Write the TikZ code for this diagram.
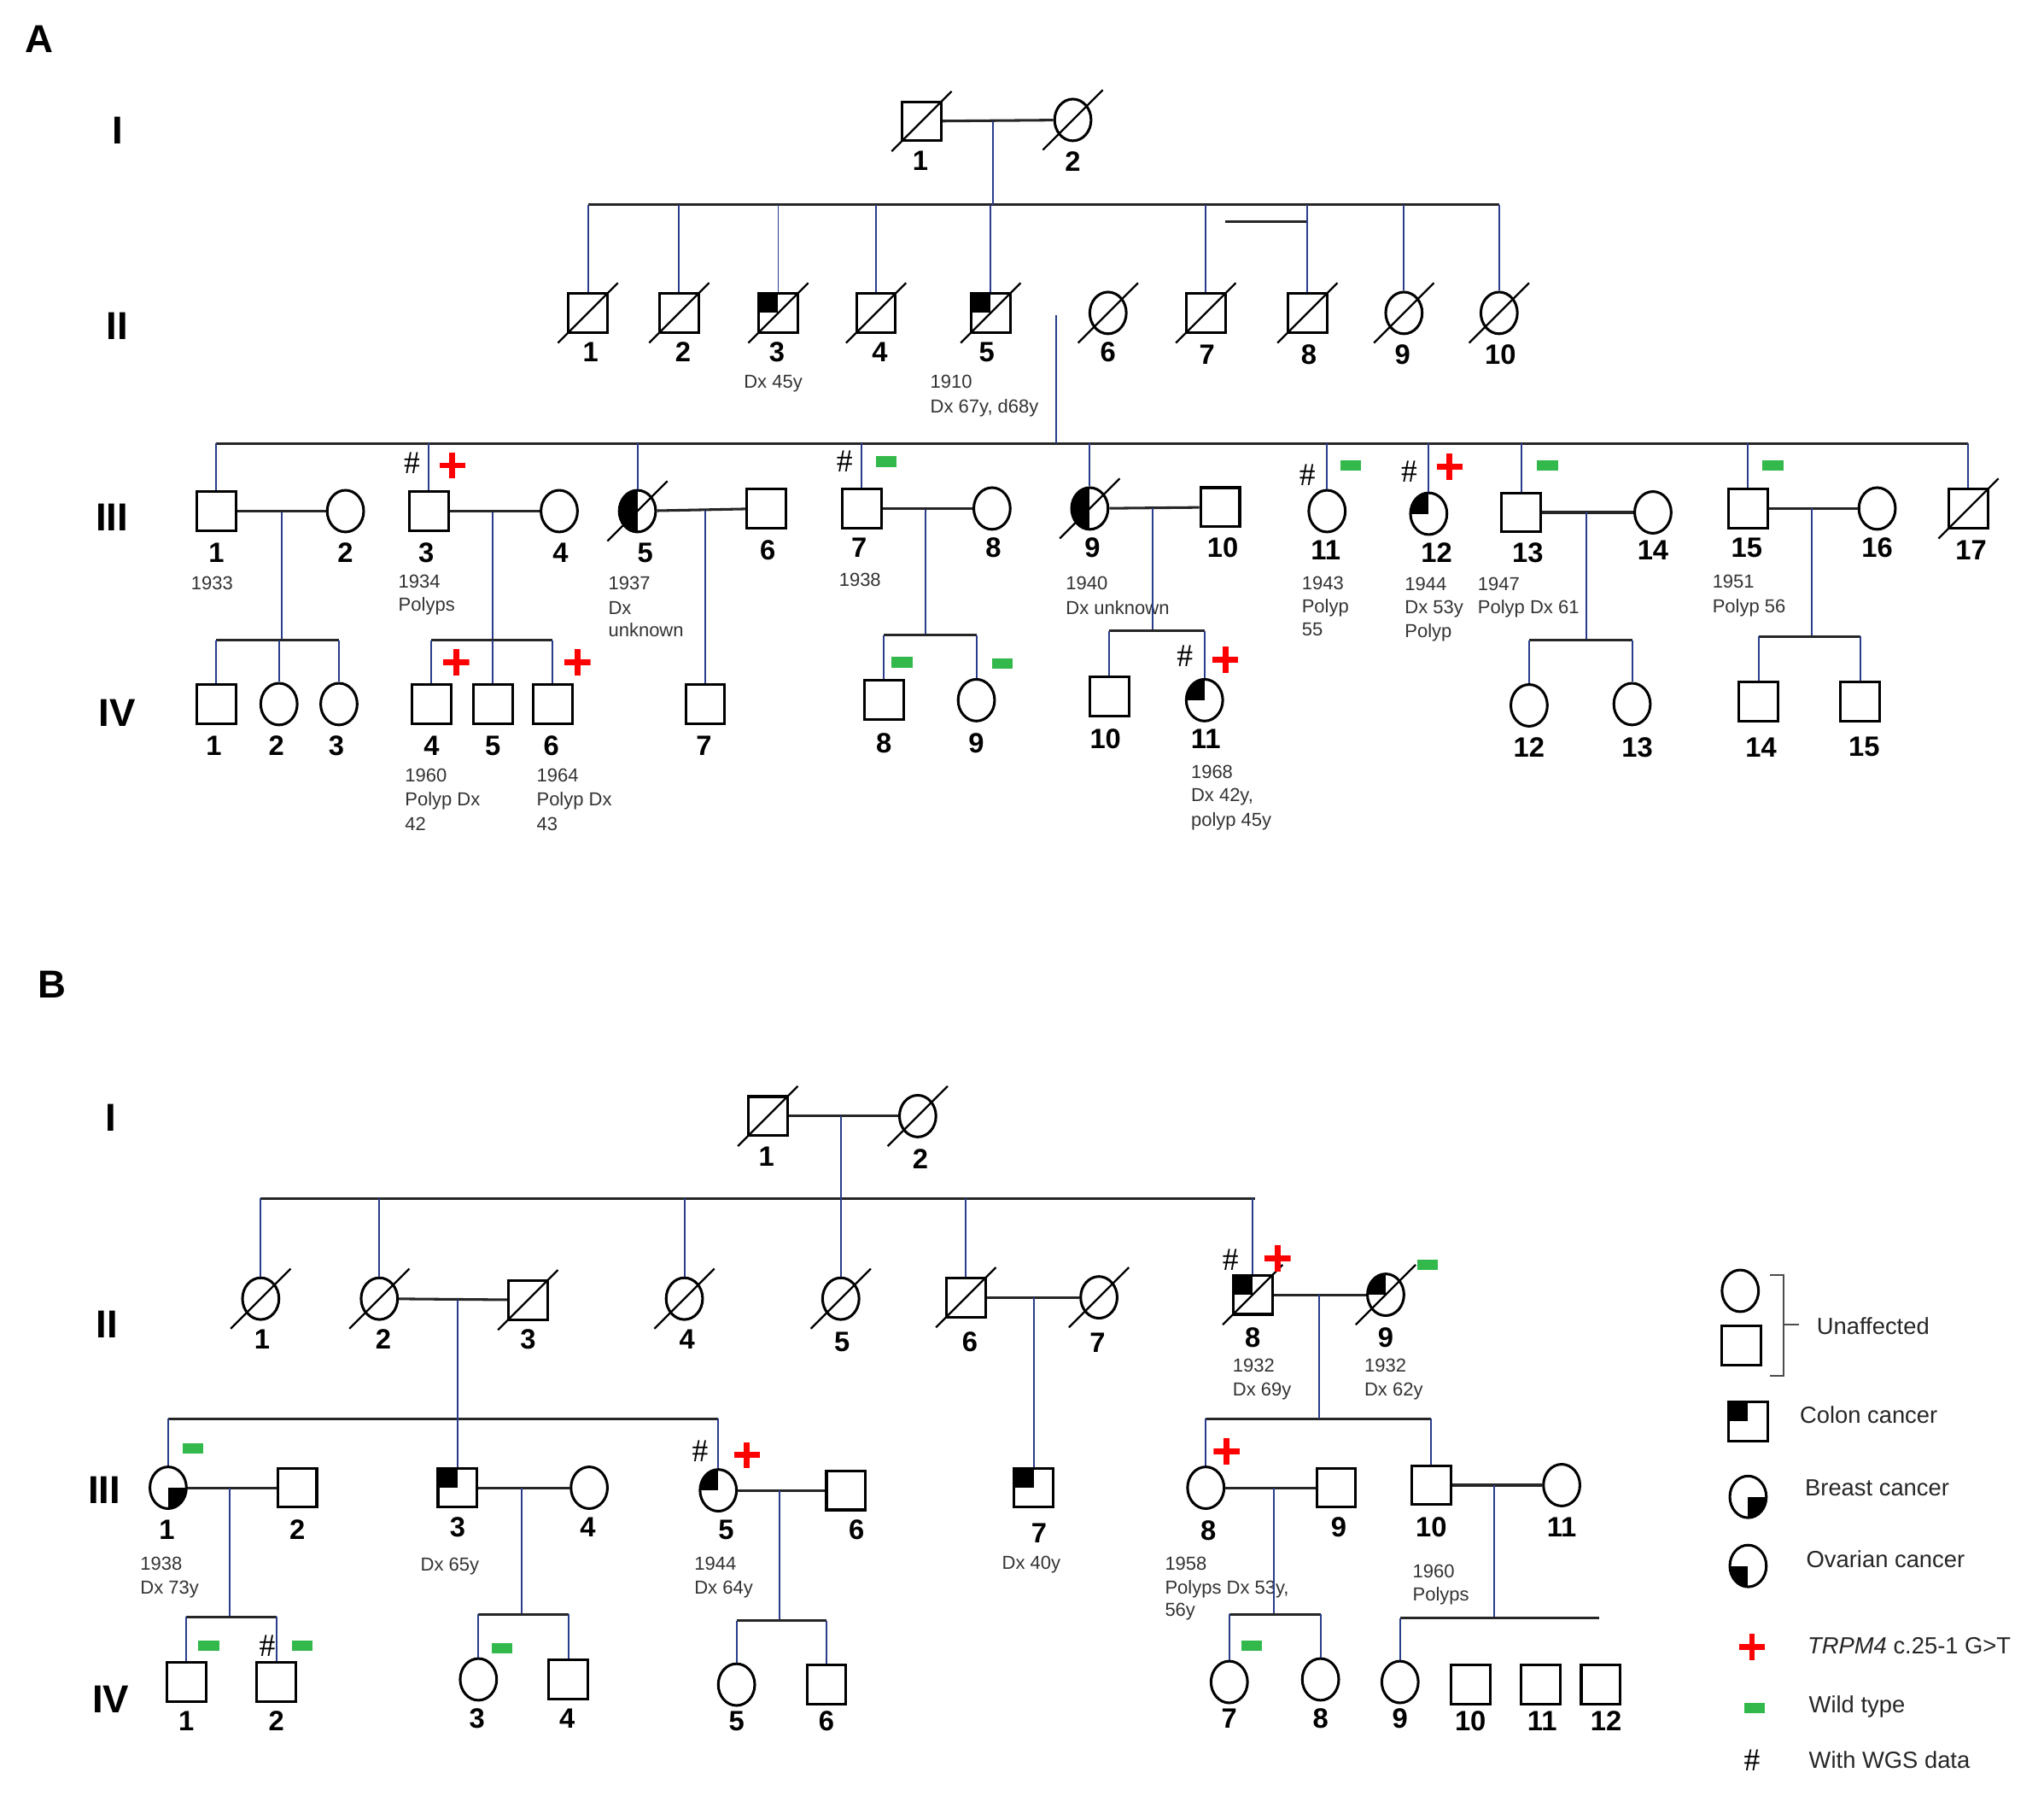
\documentclass[tikz,border=0pt]{standalone}
\usepackage{fontspec}
\setmainfont{Liberation Sans}
\newfontfamily\serifh{Liberation Serif}
\usetikzlibrary{calc,shapes.geometric}
\definecolor{pblue}{rgb}{0.16,0.24,0.55}
\definecolor{wgreen}{rgb}{0.2,0.72,0.3}
\tikzset{
 sq/.style={draw,rectangle,minimum size=3mm,inner sep=0,line width=0.2mm,fill=white},
 ci/.style={draw,ellipse,minimum width=2.8mm,minimum height=3.2mm,inner sep=0,line width=0.2mm,fill=white},
 colon/.style={path picture={\fill[black] (path picture bounding box.north west) rectangle (path picture bounding box.center);}},
 breast/.style={path picture={\fill[black] (path picture bounding box.south east) rectangle (path picture bounding box.center);}},
 ovar/.style={path picture={\fill[black] (path picture bounding box.south west) rectangle (path picture bounding box.center);}},
 lefth/.style={path picture={\fill[black] (path picture bounding box.north west) rectangle (path picture bounding box.south);}},
 ml/.style={line width=0.2mm,black!85},
 dl/.style={line width=0.13mm,pblue},
 num/.style={font=\fontsize{6.1}{7}\selectfont\bfseries,inner sep=0},
 gen/.style={font=\fontsize{8.5}{9}\selectfont\bfseries,inner sep=0},
 sm/.style={font=\fontsize{4.1}{5}\selectfont,inner sep=0,anchor=west,text=black!80},
 leg/.style={font=\fontsize{5.1}{6}\selectfont,inner sep=0,anchor=west,text=black!85},
 plus/.style={minimum size=2mm,inner sep=0,path picture={\draw[red,line width=0.45mm] (path picture bounding box.north)--(path picture bounding box.south) (path picture bounding box.west)--(path picture bounding box.east);}},
 minus/.style={fill=wgreen,minimum width=1.6mm,minimum height=0.8mm,inner sep=0},
 hash/.style={font=\serifh\fontsize{7}{8}\selectfont,inner sep=0},
}
\newcommand\M[4][]{\node[sq,#1] (#2) at (#3,#4) {};}
\newcommand\F[4][]{\node[ci,#1] (#2) at (#3,#4) {};}
\newcommand\D[1]{\draw[line width=0.15mm] ($(#1)+(-23,23)$) -- ($(#1)+(23,-23)$);}
\newcommand\kid[2]{\draw[dl] (#1.north) -- (#1.north |- #2);}
\newcommand\N[4]{\node[num] (#1) at (#2,#3) {#4};}
\newcommand\T[4]{\node[sm] (#1) at (#2,#3) {#4};}
\newcommand\PLS[3]{\node[plus] (#1) at (#2,#3) {};}
\newcommand\W[3]{\node[minus] (#1) at (#2,#3) {};}
\newcommand\Hs[3]{\node[hash] (#1) at (#2,#3) {\#};}
\begin{document}
\begin{tikzpicture}[x=0.1mm,y=-0.1mm]
\useasboundingbox[fill=white] (0,0) rectangle (1568,1377);
% ================= PANEL A =================
\node[gen] (lA) at (30,30) {A};
\node[gen] (gAI) at (90,100) {I};
\node[gen] (gAII) at (90,250) {II};
\node[gen] (gAIII) at (86,397) {III};
\node[gen] (gAIV) at (90,547) {IV};
% gen I
\M{aI1}{707}{93} \D{aI1}
\F{aI2}{823}{92} \D{aI2}
\draw[ml] (aI1) -- (aI2);
\N{naI1}{706}{123}{1} \N{naI2}{823}{124}{2}
\coordinate (aIm) at (762,93);
\coordinate (aS1) at (451,157); \coordinate (aS2) at (1150,157);
\draw[ml] (aS1) -- (aS2);
\draw[dl] (aIm) -- (aIm |- aS1);
\coordinate (aT1) at (940,170); \coordinate (aT2) at (1003,170);
\draw[ml] (aT1) -- (aT2);
% gen II
\M{aII1}{451}{240} \D{aII1}
\M{aII2}{521}{240} \D{aII2}
\M[colon]{aII3}{597}{240} \D{aII3}
\M{aII4}{672}{240} \D{aII4}
\M[colon]{aII5}{760}{240} \D{aII5}
\F{aII6}{850}{240} \D{aII6}
\M{aII7}{925}{240} \D{aII7}
\M{aII8}{1003}{240} \D{aII8}
\F{aII9}{1077}{240} \D{aII9}
\F{aII10}{1150}{240} \D{aII10}
\foreach \n in {aII1,aII2,aII3,aII4,aII5,aII7,aII8,aII9,aII10} {\kid{\n}{aS1}}
\N{naII1}{453}{270}{1} \N{naII2}{524}{270}{2} \N{naII3}{596}{270}{3} \N{naII4}{675}{270}{4}
\N{naII5}{757}{270}{5} \N{naII6}{850}{270}{6} \N{naII7}{926}{272}{7} \N{naII8}{1004}{272}{8}
\N{naII9}{1076}{272}{9} \N{naII10}{1151}{272}{10}
\T{taII3}{570}{294}{Dx 45y}
\T{taII5a}{713}{293}{1910} \T{taII5b}{713}{313}{Dx 67y, d68y}
\coordinate (aII56) at (810,242); \coordinate (aS3) at (166,340); \coordinate (aS4) at (1510,340);
\draw[ml] (aS3) -- (aS4);
\draw[dl] (aII56) -- (aII56 |- aS3);
% gen III
\M{aIII1}{166}{392} \F{aIII2}{265}{392}
\M{aIII3}{329}{392} \F{aIII4}{429}{392}
\F[lefth]{aIII5}{489}{392} \D{aIII5} \M{aIII6}{588}{390}
\M{aIII7}{661}{390} \F{aIII8}{761}{390}
\F[lefth]{aIII9}{836}{390} \D{aIII9} \M{aIII10}{936}{389}
\F{aIII11}{1018}{392} \F[colon]{aIII12}{1096}{394}
\M{aIII13}{1167}{393} \F{aIII14}{1268}{393}
\M{aIII15}{1341}{390} \F{aIII16}{1440}{390}
\M{aIII17}{1510}{390} \D{aIII17}
\foreach \n in {aIII1,aIII3,aIII5,aIII7,aIII9,aIII11,aIII12,aIII13,aIII15,aIII17} {\kid{\n}{aS3}}
\draw[ml] (aIII1) -- (aIII2); \draw[ml] (aIII3) -- (aIII4); \draw[ml] (aIII5) -- (aIII6);
\draw[ml] (aIII7) -- (aIII8); \draw[ml] (aIII9) -- (aIII10); \draw[ml] (aIII13) -- (aIII14);
\draw[ml] (aIII15) -- (aIII16);
\N{naIII1}{166}{424}{1} \N{naIII2}{265}{424}{2} \N{naIII3}{327}{424}{3} \N{naIII4}{430}{424}{4}
\N{naIII5}{495}{424}{5} \N{naIII6}{589}{422}{6} \N{naIII7}{659}{420}{7} \N{naIII8}{762}{420}{8}
\N{naIII9}{838}{420}{9} \N{naIII10}{938}{420}{10} \N{naIII11}{1017}{422}{11} \N{naIII12}{1102}{424}{12}
\N{naIII13}{1172}{424}{13} \N{naIII14}{1268}{422}{14} \N{naIII15}{1340}{420}{15} \N{naIII16}{1440}{420}{16}
\N{naIII17}{1512}{422}{17}
\Hs{haIII3}{316}{355} \PLS{paIII3}{347}{357}
\Hs{haIII7}{648}{354} \W{waIII7}{680}{354}
\Hs{haIII11}{1003}{364} \W{waIII11}{1036}{357}
\Hs{haIII12}{1081}{362} \PLS{paIII12}{1112}{358}
\W{waIII13}{1187}{357} \W{waIII15}{1360}{357}
\T{taIII1}{146}{447}{1933}
\T{taIII3a}{305}{446}{1934} \T{taIII3b}{305}{465}{Polyps}
\T{taIII5a}{466}{447}{1937} \T{taIII5b}{466}{466}{Dx} \T{taIII5c}{466}{483}{unknown}
\T{taIII7}{643}{445}{1938}
\T{taIII9a}{817}{447}{1940} \T{taIII9b}{817}{466}{Dx unknown}
\T{taIII11a}{998}{447}{1943} \T{taIII11b}{998}{466}{Polyp} \T{taIII11c}{998}{483}{55}
\T{taIII12a}{1077}{448}{1944} \T{taIII12b}{1077}{467}{Dx 53y} \T{taIII12c}{1077}{485}{Polyp}
\T{taIII13a}{1133}{448}{1947} \T{taIII13b}{1133}{467}{Polyp Dx 61}
\T{taIII15a}{1313}{446}{1951} \T{taIII15b}{1313}{466}{Polyp 56}
% descents III -> IV
\coordinate (am1) at (216,393); \coordinate (as1) at (166,491);
\coordinate (am3) at (378,393); \coordinate (as3) at (331,491);
\coordinate (am5) at (541,392);
\coordinate (am7) at (710,391); \coordinate (as7) at (678,487);
\coordinate (am9) at (884,390); \coordinate (as9) at (851,484);
\coordinate (am13) at (1217,393); \coordinate (as13) at (1173,491);
\coordinate (am15) at (1390,390); \coordinate (as15) at (1349,488);
\draw[dl] (am1) -- (am1 |- as1); \draw[dl] (am3) -- (am3 |- as3);
\draw[dl] (am7) -- (am7 |- as7); \draw[dl] (am9) -- (am9 |- as9);
\draw[dl] (am13) -- (am13 |- as13); \draw[dl] (am15) -- (am15 |- as15);
% gen IV
\M{aIV1}{166}{540} \F{aIV2}{214}{540} \F{aIV3}{260}{540}
\M{aIV4}{331}{540} \M{aIV5}{378}{540} \M{aIV6}{424}{540}
\M{aIV7}{541}{540}
\M{aIV8}{678}{537} \F{aIV9}{749}{537}
\M{aIV10}{851}{534} \F[colon]{aIV11}{924}{537}
\F{aIV12}{1173}{541} \F{aIV13}{1252}{540}
\M{aIV14}{1349}{538} \M{aIV15}{1427}{538}
\draw[ml] (as1) -- (aIV3.north |- as1);
\draw[ml] (as3) -- (aIV6.north |- as3);
\draw[ml] (as7) -- (aIV9.north |- as7);
\draw[ml] (as9) -- (aIV11.north |- as9);
\draw[ml] (as13) -- (aIV13.north |- as13);
\draw[ml] (as15) -- (aIV15.north |- as15);
\foreach \n/\s in {aIV1/as1,aIV2/as1,aIV3/as1,aIV4/as3,aIV5/as3,aIV6/as3,aIV8/as7,aIV9/as7,aIV10/as9,aIV11/as9,aIV12/as13,aIV13/as13,aIV14/as15,aIV15/as15} {\kid{\n}{\s}}
\draw[dl] (aIV7.north) -- (am5);
\N{naIV1}{164}{572}{1} \N{naIV2}{212}{572}{2} \N{naIV3}{258}{572}{3} \N{naIV4}{331}{572}{4}
\N{naIV5}{378}{572}{5} \N{naIV6}{423}{572}{6} \N{naIV7}{540}{572}{7} \N{naIV8}{678}{570}{8}
\N{naIV9}{749}{570}{9} \N{naIV10}{848}{567}{10} \N{naIV11}{925}{567}{11} \N{naIV12}{1173}{573}{12}
\N{naIV13}{1256}{573}{13} \N{naIV14}{1351}{573}{14} \N{naIV15}{1430}{573}{15}
\PLS{paIV4}{350}{508} \PLS{paIV6}{443}{508}
\W{waIV8}{692}{508} \W{waIV9}{769}{509}
\Hs{haIV11}{909}{503} \PLS{paIV11}{940}{506}
\T{taIV4a}{310}{595}{1960} \T{taIV4b}{310}{614}{Polyp Dx} \T{taIV4c}{310}{632}{42}
\T{taIV6a}{411}{595}{1964} \T{taIV6b}{411}{614}{Polyp Dx} \T{taIV6c}{411}{632}{43}
\T{taIV11a}{913}{592}{1968} \T{taIV11b}{913}{611}{Dx 42y,} \T{taIV11c}{913}{630}{polyp 45y}
% ================= PANEL B =================
\node[gen] (lB) at (40,755) {B};
\node[gen] (gBI) at (85,857) {I};
\node[gen] (gBII) at (82,1016) {II};
\node[gen] (gBIII) at (80,1143) {III};
\node[gen] (gBIV) at (85,1303) {IV};
\M{bI1}{589}{856} \D{bI1}
\F{bI2}{704}{856} \D{bI2}
\draw[ml] (bI1) -- (bI2);
\N{nbI1}{588}{887}{1} \N{nbI2}{706}{889}{2}
\coordinate (bIm) at (645,856); \coordinate (bS1) at (200,919); \coordinate (bS2) at (963,919);
\draw[ml] (bS1) -- (bS2);
\draw[dl] (bIm) -- (bIm |- bS1);
% gen II
\F{bII1}{200}{996} \D{bII1}
\F{bII2}{291}{996} \D{bII2}
\M{bII3}{405}{997} \D{bII3}
\F{bII4}{525}{996} \D{bII4}
\F{bII5}{645}{996} \D{bII5}
\M{bII6}{741}{995} \D{bII6}
\F{bII7}{843}{995} \D{bII7}
\M[colon]{bII8}{961}{993} \D{bII8}
\F[colon]{bII9}{1063}{993} \D{bII9}
\foreach \n in {bII1,bII2,bII4,bII5,bII6,bII8} {\kid{\n}{bS1}}
\draw[ml] (bII2) -- (bII3); \draw[ml] (bII6) -- (bII7); \draw[ml] (bII8) -- (bII9);
\N{nbII1}{201}{1027}{1} \N{nbII2}{294}{1027}{2} \N{nbII3}{405}{1027}{3} \N{nbII4}{527}{1027}{4}
\N{nbII5}{646}{1029}{5} \N{nbII6}{744}{1029}{6} \N{nbII7}{842}{1030}{7} \N{nbII8}{961}{1026}{8}
\N{nbII9}{1063}{1026}{9}
\T{tbII8a}{945}{1047}{1932} \T{tbII8b}{945}{1067}{Dx 69y}
\T{tbII9a}{1046}{1047}{1932} \T{tbII9b}{1046}{1067}{Dx 62y}
\Hs{hbII8}{944}{966} \PLS{pbII8}{980}{965} \W{wbII9}{1095}{970}
\coordinate (bm2) at (351,997); \coordinate (bs2) at (129,1088); \coordinate (bs2e) at (551,1088);
\coordinate (bm6) at (793,995);
\coordinate (bm8) at (1012,993); \coordinate (bs8) at (925,1088); \coordinate (bs8e) at (1098,1088);
\draw[ml] (bs2) -- (bs2e); \draw[ml] (bs8) -- (bs8e);
\draw[dl] (bm2) -- (bm2 |- bs2); \draw[dl] (bm8) -- (bm8 |- bs8);
% gen III
\F[breast]{bIII1}{129}{1141} \M{bIII2}{228}{1141}
\M[colon]{bIII3}{351}{1141} \F{bIII4}{452}{1141}
\F[colon]{bIII5}{551}{1143} \M{bIII6}{649}{1143}
\M[colon]{bIII7}{793}{1141}
\F{bIII8}{925}{1141} \M{bIII9}{1025}{1141}
\M{bIII10}{1098}{1139} \F{bIII11}{1198}{1139}
\foreach \n in {bIII1,bIII3,bIII5} {\kid{\n}{bs2}}
\foreach \n in {bIII8,bIII10} {\kid{\n}{bs8}}
\draw[dl] (bIII7.north) -- (bm6);
\draw[ml] (bIII1) -- (bIII2); \draw[ml] (bIII3) -- (bIII4); \draw[ml] (bIII5) -- (bIII6);
\draw[ml] (bIII8) -- (bIII9); \draw[ml] (bIII10) -- (bIII11);
\N{nbIII1}{128}{1173}{1} \N{nbIII2}{228}{1173}{2} \N{nbIII3}{351}{1171}{3} \N{nbIII4}{451}{1171}{4}
\N{nbIII5}{557}{1173}{5} \N{nbIII6}{657}{1173}{6} \N{nbIII7}{797}{1176}{7} \N{nbIII8}{927}{1174}{8}
\N{nbIII9}{1027}{1171}{9} \N{nbIII10}{1098}{1171}{10} \N{nbIII11}{1198}{1171}{11}
\W{wbIII1}{148}{1111} \Hs{hbIII5}{537}{1113} \PLS{pbIII5}{573}{1116} \PLS{pbIII8}{941}{1113}
\T{tbIII1a}{107}{1199}{1938} \T{tbIII1b}{107}{1219}{Dx 73y}
\T{tbIII3}{322}{1201}{Dx 65y}
\T{tbIII5a}{532}{1199}{1944} \T{tbIII5b}{532}{1219}{Dx 64y}
\T{tbIII7}{768}{1200}{Dx 40y}
\T{tbIII8a}{893}{1199}{1958} \T{tbIII8b}{893}{1219}{Polyps Dx 53y,} \T{tbIII8c}{893}{1236}{56y}
\T{tbIII10a}{1083}{1205}{1960} \T{tbIII10b}{1083}{1224}{Polyps}
% III -> IV
\coordinate (bm31) at (176,1141); \coordinate (bt1) at (143,1240);
\coordinate (bm33) at (400,1141); \coordinate (bt3) at (367,1238);
\coordinate (bm35) at (598,1143); \coordinate (bt5) at (565,1243);
\coordinate (bm38) at (977,1141); \coordinate (bt8) at (943,1238);
\coordinate (bm310) at (1146,1139); \coordinate (bt10) at (1074,1241); \coordinate (bt10e) at (1227,1241);
\draw[dl] (bm31) -- (bm31 |- bt1); \draw[dl] (bm33) -- (bm33 |- bt3);
\draw[dl] (bm35) -- (bm35 |- bt5); \draw[dl] (bm38) -- (bm38 |- bt8);
\draw[dl] (bm310) -- (bm310 |- bt10);
% gen IV
\M{bIV1}{143}{1290} \M{bIV2}{212}{1290}
\F{bIV3}{367}{1288} \M{bIV4}{436}{1288}
\F{bIV5}{565}{1292} \M{bIV6}{634}{1292}
\F{bIV7}{943}{1290} \F{bIV8}{1013}{1288}
\F{bIV9}{1074}{1290} \M{bIV10}{1128}{1292} \M{bIV11}{1182}{1292} \M{bIV12}{1228}{1292}
\draw[ml] (bt1) -- (bIV2.north |- bt1);
\draw[ml] (bt3) -- (bIV4.north |- bt3);
\draw[ml] (bt5) -- (bIV6.north |- bt5);
\draw[ml] (bt8) -- (bIV8.north |- bt8);
\draw[ml] (bt10) -- (bt10e);
\foreach \n/\s in {bIV1/bt1,bIV2/bt1,bIV3/bt3,bIV4/bt3,bIV5/bt5,bIV6/bt5,bIV7/bt8,bIV8/bt8,bIV9/bt10} {\kid{\n}{\s}}
\N{nbIV1}{143}{1320}{1} \N{nbIV2}{212}{1320}{2} \N{nbIV3}{366}{1318}{3} \N{nbIV4}{435}{1318}{4}
\N{nbIV5}{565}{1320}{5} \N{nbIV6}{634}{1320}{6} \N{nbIV7}{943}{1318}{7} \N{nbIV8}{1013}{1318}{8}
\N{nbIV9}{1074}{1318}{9} \N{nbIV10}{1128}{1320}{10} \N{nbIV11}{1183}{1320}{11} \N{nbIV12}{1232}{1320}{12}
\W{wbIV1}{160}{1262} \Hs{hbIV2}{205}{1262} \W{wbIV2}{232}{1262}
\W{wbIV3}{385}{1264} \W{wbIV7}{960}{1262}
% ================= LEGEND =================
\F{lgF}{1335}{990} \M{lgM}{1336}{1032}
\coordinate (br1) at (1358,978); \coordinate (br2) at (1368,978); \coordinate (br3) at (1368,1055);
\coordinate (br4) at (1358,1055); \coordinate (br5) at (1368,1016); \coordinate (br6) at (1380,1016);
\draw[black!70,line width=0.12mm] (br1) -- (br2) -- (br3) -- (br4) (br5) -- (br6);
\node[leg] (lgt1) at (1393,1017) {Unaffected};
\M[colon]{lgC}{1341}{1090} \node[leg] (lgt2) at (1380,1085) {Colon cancer};
\F[breast]{lgB}{1341}{1148} \node[leg] (lgt3) at (1384,1141) {Breast cancer};
\F[ovar]{lgO}{1341}{1201} \node[leg] (lgt4) at (1385,1196) {Ovarian cancer};
\PLS{lgP}{1344}{1263} \node[leg] (lgt5) at (1386,1262) {\textit{TRPM4} c.25-1 G>T};
\W{lgW}{1346}{1310} \node[leg] (lgt6) at (1387,1309) {Wild type};
\Hs{lgH}{1344}{1350} \node[leg] (lgt7) at (1387,1350) {With WGS data};
\end{tikzpicture}
\end{document}
